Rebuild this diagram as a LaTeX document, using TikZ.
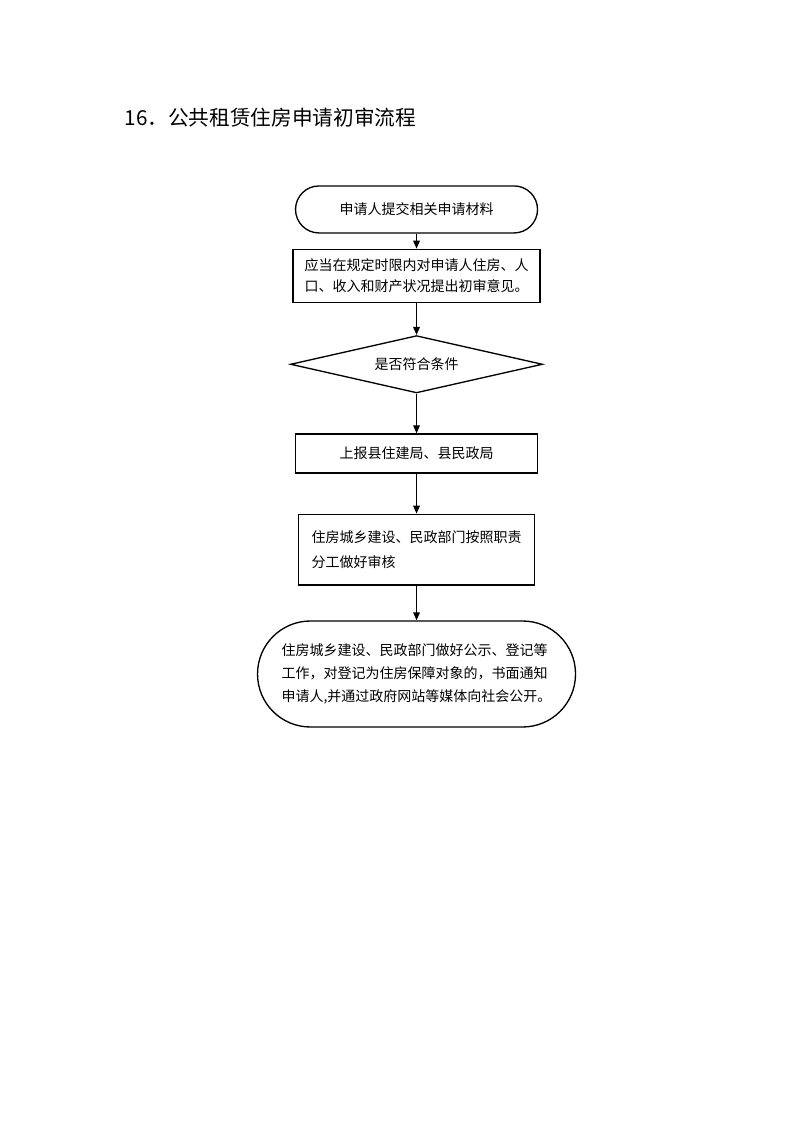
\documentclass[tikz,border=0pt]{standalone}
\usepackage{fontspec}
\setmainfont{Noto Sans CJK SC}
\usetikzlibrary{shapes.geometric,arrows.meta}

\tikzstyle{block}=[rectangle,
    draw=black,
    line width=1pt,
    inner sep=0pt,
    align=left,
    font=\fontsize{10.5}{15.75}\selectfont]
\tikzstyle{terminal}=[block,
    align=center]
\tikzstyle{decision}=[diamond,
    aspect=4.34,
    draw=black,
    line width=1pt,
    inner sep=0pt,
    font=\fontsize{10.5}{15.75}\selectfont]
\tikzstyle{flow}=[draw,
    line width=1pt,
    -{Triangle[length=6pt,width=5pt]}]

\begin{document}
\begin{tikzpicture}
    \useasboundingbox (0,0) rectangle (595.5pt,-841.5pt);
    \node (title) [anchor=west, font=\fontsize{15.5}{18}\selectfont] at (90pt,-88.5pt) {16．公共租赁住房申请初审流程};
    \matrix[anchor=north, inner sep=0pt, row sep=0pt] at (312.4pt,-138.75pt) {
        \node (apply) [terminal, minimum width=181.5pt, minimum height=35.25pt, rounded corners=17.6pt] {申请人提交相关申请材料};\\[11.25pt]
        \node (review) [block, minimum width=185.25pt, minimum height=39.75pt] {应当在规定时限内对申请人住房、人\\口、收入和财产状况提出初审意见。};\\[24pt]
        \node (check) [decision, minimum width=189pt, minimum height=43pt] {是否符合条件};\\[30pt]
        \node (report) [block, minimum width=181.5pt, minimum height=29.25pt] {上报县住建局、县民政局};\\[30pt]
        \node (audit) [block, minimum width=177pt, minimum height=53pt, font=\fontsize{10.5}{18.75}\selectfont] {住房城乡建设、民政部门按照职责\\分工做好审核};\\[26pt]
        \node (publish) [block, minimum width=238.5pt, minimum height=79.5pt, rounded corners=39.7pt, font=\fontsize{10.5}{17}\selectfont] {住房城乡建设、民政部门做好公示、登记等\\工作，对登记为住房保障对象的，书面通知\\申请人,并通过政府网站等媒体向社会公开。};\\
    };
    \draw [flow] (apply) -- (review);
    \draw [flow] (review) -- (check);
    \draw [flow] (check) -- (report);
    \draw [flow] (report) -- (audit);
    \draw [flow] (audit) -- (publish);
\end{tikzpicture}
\end{document}
